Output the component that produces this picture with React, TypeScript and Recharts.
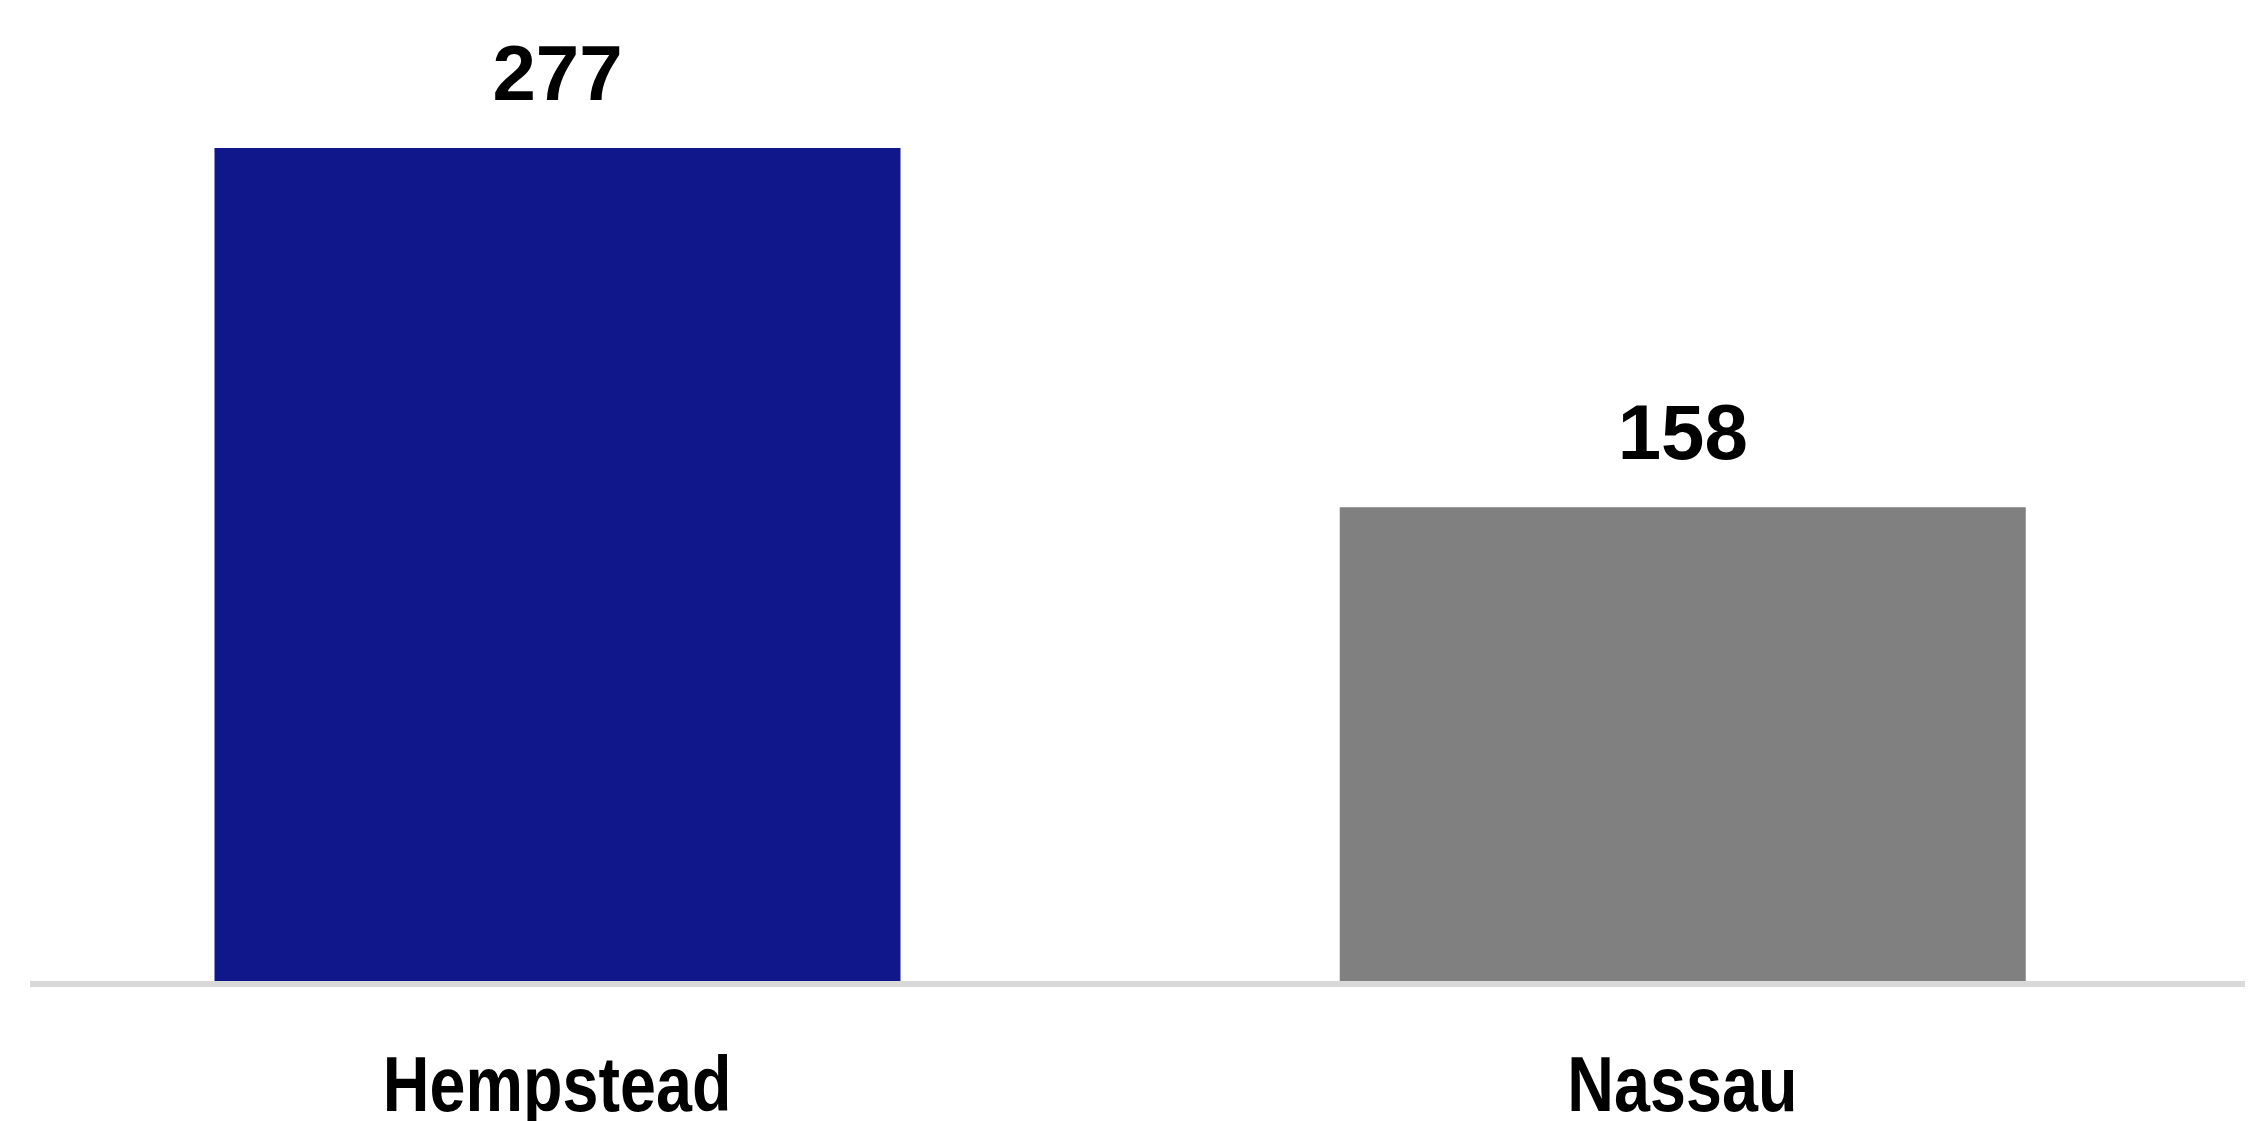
import { BarChart, Bar, XAxis, YAxis, Cell, LabelList } from 'recharts';

const places = ['Hempstead', 'Nassau'];
const counts = [277, 158];
const COLORS = ['#10178A', '#808080'];

const data = places.map((name, i) => ({ name, value: counts[i] }));

// no narrow font installed, so squeeze Liberation Sans Bold horizontally
const NarrowTick = ({ x, y, payload }: any) => (
  <g transform={`translate(${x},${y})`}>
    <text
      transform="scale(0.84,1)"
      x={0}
      y={55}
      textAnchor="middle"
      fill="#000"
      fontSize={77}
      fontWeight="bold"
      fontFamily='"Liberation Sans", Arial, sans-serif'
    >
      {payload.value}
    </text>
  </g>
);

const App = () => {
  return (
    <div style={{ position: 'absolute', left: 0, top: 0, width: 2266, height: 1121, background: '#fff' }}>
      <BarChart
        width={2266}
        height={1121}
        data={data}
        margin={{ top: 148, right: 21, bottom: 0, left: 30 }}
      >
        <XAxis
          dataKey="name"
          height={137}
          padding={{ left: -35.5, right: 0 }}
          axisLine={{ stroke: '#D9D9D9', strokeWidth: 6 }}
          tickLine={false}
          tickSize={0}
          tickMargin={72}
          tick={<NarrowTick />}
        />
        <YAxis hide domain={[0, 'dataMax']} />
        <Bar dataKey="value" barSize={686} isAnimationActive={false}>
          {data.map((entry, index) => (
            <Cell key={`cell-${index}`} fill={COLORS[index % COLORS.length]} />
          ))}
          <LabelList
            dataKey="value"
            position="top"
            offset={48}
            fill="#000"
            fontSize={78}
            fontWeight="bold"
            fontFamily='"Liberation Sans", Arial, sans-serif'
          />
        </Bar>
      </BarChart>
    </div>
  );
};

export default App;
